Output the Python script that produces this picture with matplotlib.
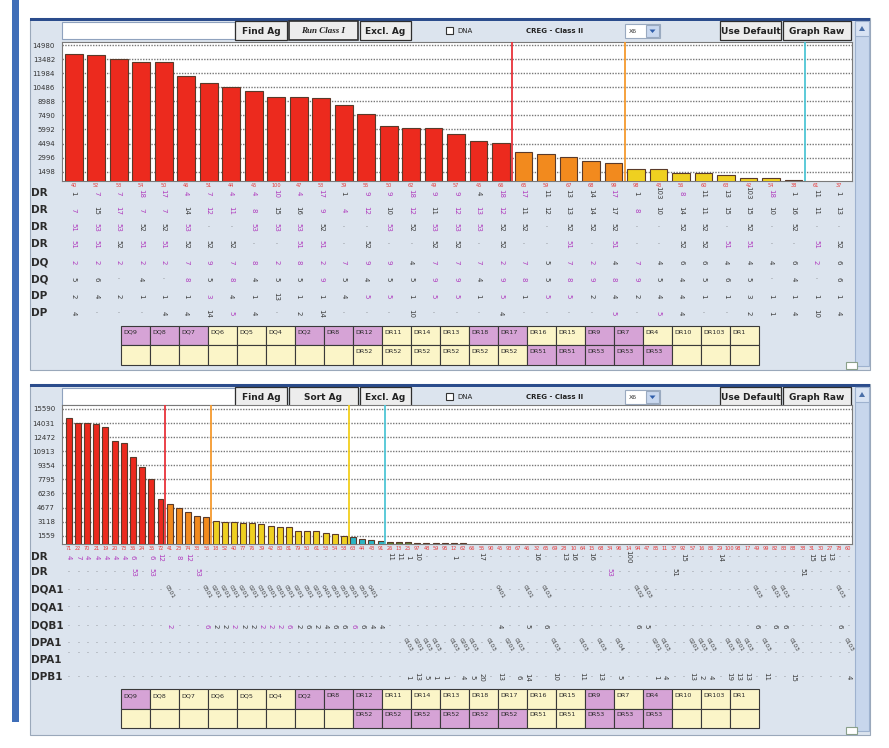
import matplotlib
matplotlib.use("Agg")
import matplotlib.pyplot as plt
import matplotlib.transforms as mtransforms
from matplotlib.patches import Rectangle, Polygon

W, H = 889, 748

# ---------------- data: upper screen ----------------
top_names = [40, 52, 53, 54, 50, 46, 51, 44, 45, 100, 47, 53, 39, 55, 50, 62, 49, 57, 45, 66,
             65, 59, 67, 68, 99, 98, 43, 56, 60, 63, 42, 54, 38, 61, 37]
top_values = [14030, 13955, 13465, 13210, 13210, 11690, 10910, 10486, 10090, 9483, 9483, 9313,
              8600, 7610, 6364, 6183, 6115, 5512, 4767, 4586, 3627, 3382, 3095, 2669, 2456,
              1754, 1754, 1392, 1392, 1113, 859, 795, 614, 0, 0]
top_groups = "r" * 20 + "o" * 5 + "y" * 7 + "k" + "nn"
top_yticks = [14980, 13482, 11984, 10486, 8988, 7490, 5992, 4494, 2996, 1498]
top_cut_after = [20, 25, 33]
top_cut_colors = ["#E8333A", "#F59A2E", "#4FC6D6"]
top_row_labels = ["DR", "DR", "DR", "DR", "DQ", "DQ", "DP", "DP"]
top_rows = [
    ["1", "7", "7", "18", "17", "4", "7", "4", "4", "10", "4", "17", "1", "9", "9", "18", "9", "9",
     "4", "18", "17", "11", "13", "14", "17", "1", "103", "8", "11", "13", "103", "18", "1", "11", "1"],
    ["7", "15", "17", "7", "7", "14", "12", "11", "8", "15", "16", "9", "4", "12", "10", "12", "11", "12",
     "13", "12", "11", "12", "13", "14", "17", "8", "10", "14", "11", "15", "15", "10", "16", "11", "13"],
    ["51", "53", "53", "52", "52", "53", ".", ".", "53", "53", "53", "52", ".", ".", "53", "52", "53", "53",
     "53", "52", "52", ".", "52", "52", "52", ".", ".", "52", "52", ".", "52", ".", "52", ".", "."],
    ["51", "51", "52", "51", "51", "52", "52", "52", ".", ".", "51", "51", ".", "52", ".", ".", "52", "52",
     ".", "52", ".", ".", "51", ".", "51", ".", ".", "52", "52", "51", "51", ".", ".", "51", "52"],
    ["2", "2", "2", "2", "2", "7", "9", "7", "8", "2", "8", "2", "7", "9", "9", "4", "7", "7",
     "7", "2", "7", "5", "7", "2", "4", "7", "4", "6", "6", "4", "4", "4", "6", "2", "6"],
    ["5", "6", ".", "4", ".", "8", "5", "8", "4", "5", "5", "9", "5", "4", "5", "5", "9", "9",
     "4", "9", "8", "5", "8", "9", "8", "9", "5", "4", "5", "6", "5", ".", "4", ".", "6"],
    ["2", "4", "2", "1", "1", "1", "3", "4", "1", "13", "1", "1", "4", "5", "5", "1", "5", "5",
     "1", "5", "1", "5", "5", "2", "4", "2", "4", "4", "1", "1", "3", "1", "1", "1", "1"],
    ["4", ".", ".", ".", "4", "4", "14", "5", "4", ".", "2", "14", ".", ".", ".", "10", ".", ".",
     ".", "4", ".", ".", ".", ".", "5", ".", "5", "4", ".", ".", "2", "1", "4", "10", "4"],
]
# m = matched (magenta), k = plain
top_marks = [
    "kmmmmmmmmmmmkmmmmm" + "kmmkkkmkkmkkkmkkk",
    "mkmmmkmmmkkmmmkmkm" + "mmkkkkkmkkkkkkkkk",
    "mmmkkmkkmmmkkkmkmm" + "mkkkkkkkkkkkkkkkk",
    "mmkmmkkkkkmmkkkkkk" + "kkkkmkmkkkkmmkkmk",
    "mmmmmmmmmmmmmmmkmm" + "mmmkmmkmkkkkkkkmk",
    "kkkkkmkmkkkmkkkkmm" + "kmmkmmmmkkkkkkkkk",
    "kkkkkkmkkkkkkmmkmm" + "kmkmmkkkkkkkkkkkk",
    "kkkkkkkmkkkkkkkkkk" + "kkkkkkmkmkkkkkkkk",
]

# ---------------- data: lower screen ----------------
bot_names = [71, 22, 70, 21, 19, 20, 73, 36, 24, 35, 72, 41, 23, 74, 33, 56,
             18, 52, 40, 77, 76, 39, 42, 80, 81, 79, 50, 61, 53, 54, 58, 63, 44, 43, 91,
             26, 13, 25, 97, 48, 59, 95, 12, 62, 66, 55, 90, 45, 93, 67, 46, 32, 65, 69, 28,
             10, 64, 15, 68, 34, 96, 14, 94, 47, 85, 11, 37, 92, 57, 16, 86, 29, 100, 98, 17,
             49, 99, 82, 83, 88, 38, 31, 30, 27, 78, 60]
bot_values = [14625, 13999, 13999, 13891, 13628, 12078, 11857, 10240, 9199, 7803, 5589,
              5069, 4659, 4150, 3740, 3663,
              3219, 3076, 3040, 3000, 2931, 2895, 2666, 2490, 2490, 2079, 2060, 2040, 1891, 1714, 1525,
              1450, 1160, 1085, 1010,
              895, 820, 820, 790,
              780, 760, 740, 720, 700] + [0] * 42
bot_groups = "r" * 11 + "o" * 5 + "y" * 15 + "t" * 4 + "g" * 4 + "k" * 5 + "n" * 42
bot_yticks = [15590, 14031, 12472, 10913, 9354, 7795, 6236, 4677, 3118, 1559]
bot_cut_after = [11, 16, 31, 35]
bot_cut_colors = ["#E8333A", "#F59A2E", "#F2CF1C", "#4FC6D6"]
bot_row_labels = ["DR", "DR", "DQA1", "DQA1", "DQB1", "DPA1", "DPA1", "DPB1"]
bot_rows = [
    {0: "4", 1: "7", 2: "4", 3: "4", 4: "4", 5: "4", 6: "4", 7: "6", 9: "6", 10: "12", 12: "8", 13: "12",
     35: "11", 36: "11", 37: "1", 38: "10", 42: "1", 45: "17", 51: "16", 54: "13", 55: "16", 57: "16",
     61: "100", 67: "15", 71: "14", 81: "15", 82: "15", 83: "13"},
    {7: "53", 9: "53", 14: "53", 59: "53", 66: "51", 80: "51"},
    {11: "0501", 15: "0501", 16: "0201", 17: "0201", 18: "0301", 19: "0201", 20: "0201", 21: "0301",
     22: "0301", 23: "0301", 24: "0501", 25: "0201", 26: "0501", 27: "0201", 28: "0401", 29: "0501",
     30: "0501", 31: "0501", 32: "0501", 33: "0401", 47: "0401", 50: "0101", 52: "0103", 62: "0102",
     63: "0103", 75: "0103", 77: "0101", 78: "0103", 84: "0103"},
    {},
    {11: "2", 15: "6", 16: "2", 17: "2", 18: "2", 19: "2", 20: "2", 21: "2", 22: "2", 23: "2", 24: "6",
     25: "2", 26: "6", 27: "2", 28: "4", 29: "6", 30: "6", 31: "6", 32: "6", 33: "4", 34: "4",
     47: "4", 50: "5", 52: "6", 62: "6", 63: "5", 75: "6", 77: "6", 78: "6", 84: "6"},
    {37: "0103", 38: "0201", 39: "0103", 40: "0103", 42: "0103", 43: "0201", 44: "0103", 46: "0103",
     48: "0201", 49: "0103", 53: "0103", 56: "0103", 58: "0103", 60: "0104", 64: "0201", 65: "0103",
     68: "0201", 69: "0103", 70: "0103", 72: "0103", 73: "0201", 74: "0103", 76: "0103", 79: "0103",
     85: "0103"},
    {},
    {37: "1", 38: "13", 39: "5", 40: "1", 41: "1", 43: "4", 44: "5", 45: "20", 47: "13", 49: "6",
     50: "14", 53: "10", 56: "11", 58: "13", 60: "5", 64: "1", 65: "4", 68: "13", 69: "2", 70: "4",
     72: "19", 73: "13", 74: "13", 76: "11", 79: "15", 85: "4"},
]
bot_pink = [[0, 1, 2, 3, 4, 5, 6, 7, 9, 10, 12, 13], [7, 9, 14, 59], [], [],
            [11, 15, 18, 21, 22, 23, 24, 31], [], [], []]

# ---------------- data: antigen tables ----------------
table_row1 = ["DQ9", "DQ8", "DQ7", "DQ6", "DQ5", "DQ4", "DQ2", "DR8", "DR12", "DR11", "DR14",
              "DR13", "DR18", "DR17", "DR16", "DR15", "DR9", "DR7", "DR4", "DR10", "DR103", "DR1"]
table_row2 = [""] * 8 + ["DR52"] * 6 + ["DR51"] * 2 + ["DR53"] * 3 + [""] * 3
top_hl1 = "PPPYYYPPPYYYPPYYPPYYYY"
top_hl2 = "YYYYYYYYYYYYYYPPPPPYYY"
bot_hl1 = "PYYYYYPPPYYYYYYYPYPYYY"
bot_hl2 = "YYYYYYYYPPPPPPYYPPPYYY"

# ---------------- styling ----------------
PANEL = "#DCE4EE"
PINK = "#B03CBE"
BAR_COLORS = {"r": "#EC2A1E", "o": "#F28A1E", "y": "#EFD020", "t": "#2BB5C5",
              "g": "#5E7F2E", "k": "#3A3A3A", "n": "none"}

fig = plt.figure(figsize=(W / 100, H / 100), dpi=100)
bg = fig.add_axes([0, 0, 1, 1], zorder=0)
bg.set_xlim(0, W)
bg.set_ylim(H, 0)
bg.axis("off")


def rect(x0, y0, x1, y1, fc, ec="none", lw=0.8, z=1):
    bg.add_patch(Rectangle((x0, y0), x1 - x0, y1 - y0, facecolor=fc, edgecolor=ec, linewidth=lw, zorder=z))


def fig_box(x0, y0, x1, y1):
    return [x0 / W, 1 - y1 / H, (x1 - x0) / W, (y1 - y0) / H]


def button(x0, x1, y0, y1, label, italic=False):
    rect(x0, y0, x1, y1, "#EDEDED", "#2E2E2E", lw=1.2 if italic else 0.9, z=3)
    bg.text((x0 + x1) / 2, (y0 + y1) / 2 + 0.5, label, fontsize=6.5, fontweight="bold",
            ha="center", va="center", color="#222222", zorder=4,
            family="Liberation Serif" if italic else "DejaVu Sans",
            fontstyle="italic" if italic else "normal")


def panel(y0, y1, third_button):
    rect(30, y0, 870, y1, PANEL, "#9AA8BA", z=1)
    rect(30, y0, 870, y0 + 2.5, "#2B4C8C", z=2)
    ty = y0 + 3
    rect(62, ty + 1, 235, ty + 18, "white", "#8FA2BE", z=3)
    button(235, 287, ty, ty + 19, "Find Ag")
    button(289, 358, ty, ty + 19, third_button, italic=(third_button == "Run Class I"))
    button(360, 411, ty, ty + 19, "Excl. Ag")
    rect(446, ty + 6, 453, ty + 13, "white", "#333333", z=3)
    bg.text(457, ty + 9.5, "DNA", fontsize=5, va="center", color="#222222", zorder=4)
    bg.text(555, ty + 9.5, "CREG - Class II", fontsize=5, fontweight="bold", ha="center",
            va="center", color="#222222", zorder=4)
    rect(625, ty + 3, 660, ty + 17, "white", "#9AAAC0", z=3)
    bg.text(629, ty + 10, "X6", fontsize=4.5, va="center", color="#333333", zorder=4)
    rect(646, ty + 4, 659, ty + 16, "#C9D8EF", "#9AAAC0", z=4)
    bg.add_patch(Polygon([[649.5, ty + 8.5], [655.5, ty + 8.5], [652.5, ty + 12]], closed=True,
                         facecolor="#2F5DAA", zorder=5))
    button(720, 781, ty, ty + 19, "Use Default")
    button(783, 851, ty, ty + 19, "Graph Raw")
    # scrollbar
    rect(855, y0 + 3, 869, y1 - 4, "#C7D6EC", "#9EB2CF", z=3)
    rect(855, y0 + 3, 869, y0 + 18, "#D8E3F3", "#9EB2CF", z=4)
    bg.add_patch(Polygon([[859, y0 + 13], [865, y0 + 13], [862, y0 + 8]], closed=True,
                         facecolor="#4A6FA8", zorder=5))
    rect(846, y1 - 8, 857, y1 - 1, "white", "#8AA08A", z=4)


def table(y0, hl1, hl2):
    cw, rh = 29, 19.5
    for i, name in enumerate(table_row1):
        x = 120.5 + i * cw
        for r, (txt, hl) in enumerate([(name, hl1[i]), (table_row2[i], hl2[i])]):
            yy = y0 + r * rh
            rect(x, yy, x + cw, yy + rh, "#D6A3D6" if hl == "P" else "#FBF5C8", "#3A3A3A", lw=0.8, z=3)
            if txt:
                bg.text(x + 2.5, yy + 6.5, txt, fontsize=4.6, va="center", color="#2A2A2A", zorder=4)


def chart(box, names, values, groups, yticks, ylim, xlim, width, cuts, cut_colors, name_y):
    ax = fig.add_axes(fig_box(*box), zorder=2)
    n = len(values)
    xs = list(range(n))
    ax.bar(xs, values, width=width, color=[BAR_COLORS[g] for g in groups],
           edgecolor=["#5A3A2A" if g != "n" else "none" for g in groups], linewidth=0.8, zorder=3)
    for c, col in zip(cuts, cut_colors):
        ax.axvline(c - 0.5, color=col, linewidth=1.3, zorder=4)
    ax.set_xlim(*xlim)
    ax.set_ylim(*ylim)
    ax.set_yticks(yticks)
    ax.set_yticklabels([str(t) for t in yticks])
    ax.set_xticks([])
    ax.tick_params(axis="y", length=0, labelsize=5, labelcolor="#333333", pad=5)
    ax.yaxis.grid(True, linestyle=(0, (1, 1)), color="#777777", linewidth=1.0)
    ax.set_axisbelow(True)
    for s in ax.spines.values():
        s.set_color("#7A7A7A")
        s.set_linewidth(0.8)
    blend = mtransforms.blended_transform_factory(ax.transData, bg.transData)
    for i, nm in enumerate(names):
        ax.text(i, name_y, str(nm), transform=blend, fontsize=3.6, color="#E83838",
                ha="center", va="center", clip_on=False, zorder=5)
    return ax, blend


def cell_text(ax, blend, i, y, txt, pink):
    col = PINK if pink else "#3C3C3C"
    if txt == "." or txt == "":
        ax.text(i, y, "·", transform=blend, fontsize=4.5, color=col, ha="center",
                va="center", clip_on=False, zorder=5)
    elif len(txt) == 4 and txt.startswith("0"):
        ax.text(i, y + 2, txt, transform=blend, fontsize=4.2, color=col, rotation=-60,
                ha="center", va="center", clip_on=False, zorder=5)
    else:
        ax.text(i, y, txt, transform=blend, fontsize=5, color=col, rotation=-90,
                ha="center", va="center", clip_on=False, zorder=5)


# left blue stripe
rect(12, 0, 19, 722, "#3F6EB8", z=2)

# ---------------- upper screen ----------------
panel(18, 370, "Run Class I")
ax1, bl1 = chart((62, 42, 852, 181), top_names, top_values, top_groups, top_yticks,
                 (508, 15307), (-0.52, 34.6), 0.79, top_cut_after, top_cut_colors, 185)
top_row_y = [193, 210, 227, 244, 262, 279, 296, 313]
for r, lab in enumerate(top_row_labels):
    y = top_row_y[r]
    bg.text(31, y, lab, fontsize=7.5, fontweight="bold", color="#2B2B2B", va="center", zorder=4)
    for i, txt in enumerate(top_rows[r]):
        cell_text(ax1, bl1, i, y, txt, top_marks[r][i] == "m")
table(325.5, top_hl1, top_hl2)

# ---------------- lower screen ----------------
panel(384, 735, "Sort Ag")
ax2, bl2 = chart((62, 405, 852, 544), bot_names, bot_values, bot_groups, bot_yticks,
                 (640, 16030), (-0.74, 85.4), 0.65, bot_cut_after, bot_cut_colors, 548)
bot_row_y = [557, 572, 590, 607, 626, 643, 653, 677]
bot_label_y = [557, 572, 590, 607, 626, 643, 660, 677]
for r, lab in enumerate(bot_row_labels):
    bg.text(31, bot_label_y[r], lab, fontsize=7.5, fontweight="bold", color="#2B2B2B",
            va="center", zorder=4)
    for i in range(len(bot_values)):
        txt = bot_rows[r].get(i, ".")
        cell_text(ax2, bl2, i, bot_row_y[r], txt, i in bot_pink[r])
table(689, bot_hl1, bot_hl2)

fig.savefig("out.png", dpi=100)
